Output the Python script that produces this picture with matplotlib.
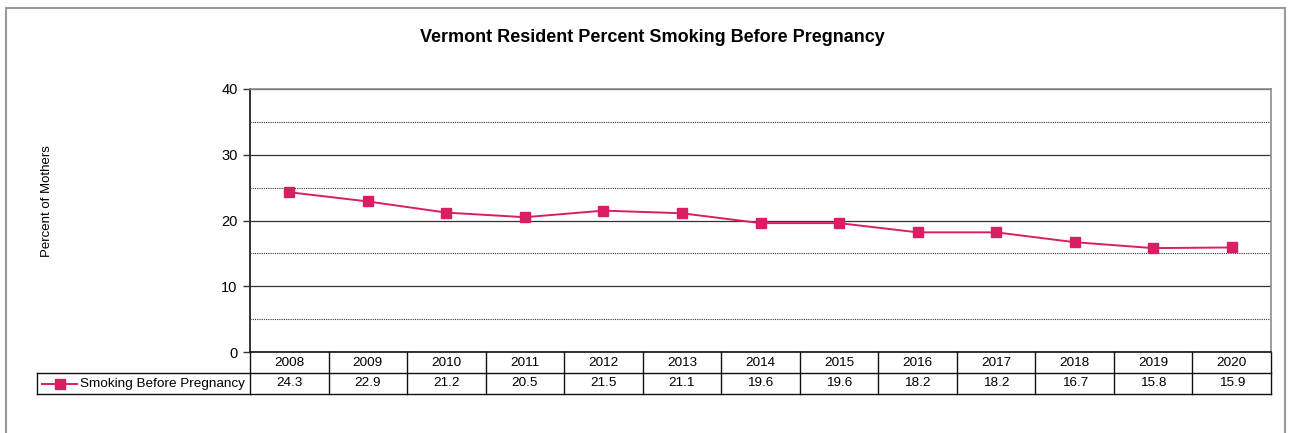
import matplotlib.pyplot as plt
from matplotlib.patches import Rectangle
from matplotlib.transforms import blended_transform_factory
from matplotlib.lines import Line2D

plt.rcParams["font.family"] = ["Liberation Sans", "DejaVu Sans"]

years = ["2008", "2009", "2010", "2011", "2012", "2013", "2014",
         "2015", "2016", "2017", "2018", "2019", "2020"]
smoking = [24.3, 22.9, 21.2, 20.5, 21.5, 21.1, 19.6,
           19.6, 18.2, 18.2, 16.7, 15.8, 15.9]
series_name = "Smoking Before Pregnancy"
color = "#D91E63"

W, H = 1292, 433
fig = plt.figure(figsize=(W / 100, H / 100), dpi=100)

# outer chart frame
fig.patches.append(Rectangle((6 / W, -0.1), (1285 - 6) / W, 1.1 - 8 / H,
                             transform=fig.transFigure, fill=False,
                             edgecolor="#9a9a9a", linewidth=1.5))

left, right, top, bottom = 250, 1271, 89, 352
ax = fig.add_axes([left / W, 1 - bottom / H, (right - left) / W, (bottom - top) / H])

x = list(range(len(years)))
ax.plot(x, smoking, color=color, linewidth=1.4, marker="s", markersize=7.5,
        zorder=3)

ax.set_xlim(-0.5, len(years) - 0.5)
ax.set_ylim(0, 40)
ax.set_yticks([0, 10, 20, 30, 40])
ax.set_yticks([5, 15, 25, 35], minor=True)
ax.tick_params(axis="y", which="major", direction="out", length=5, width=1,
               labelsize=10.5, pad=4, color="#333333")
ax.tick_params(axis="y", which="minor", length=0)
ax.set_xticks([])
ax.yaxis.grid(True, which="major", color="#333333", linewidth=0.9, linestyle="-")
ax.yaxis.grid(True, which="minor", color="#333333", linewidth=0.8,
              linestyle=(0, (1, 1)))
ax.set_axisbelow(True)
for side in ["top", "right"]:
    ax.spines[side].set_color("#8c8c8c")
    ax.spines[side].set_linewidth(1.2)
ax.spines["left"].set_color("#333333")
ax.spines["left"].set_linewidth(1.4)
ax.spines["bottom"].set_color("#111111")
ax.spines["bottom"].set_linewidth(1.2)

fig.text(47 / W, 1 - 201 / H, "Percent of Mothers", rotation=90,
         ha="center", va="center", fontsize=9.5)
fig.text(652 / W, 1 - 38 / H, "Vermont Resident Percent Smoking Before Pregnancy",
         ha="center", va="center", fontsize=13, fontweight="bold")

# data table under the axis
row_h = 21 / (bottom - top)
trans = blended_transform_factory(ax.transData, ax.transAxes)
lw = 1.0
fs = 9.7
n = len(years)
for i in range(n + 1):
    ax.add_line(Line2D([i - 0.5, i - 0.5], [0, -2 * row_h], transform=trans,
                       color="#111111", linewidth=lw, clip_on=False))
ax.add_line(Line2D([-0.5, n - 0.5], [-row_h, -row_h], transform=trans,
                   color="#111111", linewidth=lw, clip_on=False))
ax.add_line(Line2D([-0.5, n - 0.5], [-2 * row_h, -2 * row_h], transform=trans,
                   color="#111111", linewidth=lw, clip_on=False))
for i, (yr, v) in enumerate(zip(years, smoking)):
    ax.text(i, -0.5 * row_h, yr, transform=trans, ha="center", va="center",
            fontsize=fs)
    ax.text(i, -1.5 * row_h, f"{v:.1f}", transform=trans, ha="center",
            va="center", fontsize=fs)

# legend cell
leg_left = (37 - left) / (right - left)
for xx, yy in [([leg_left, 0], [-row_h, -row_h]),
               ([leg_left, 0], [-2 * row_h, -2 * row_h]),
               ([leg_left, leg_left], [-row_h, -2 * row_h])]:
    ax.add_line(Line2D(xx, yy, transform=ax.transAxes, color="#111111",
                       linewidth=lw, clip_on=False))
lx0 = (42 - left) / (right - left)
lx1 = (77 - left) / (right - left)
ax.add_line(Line2D([lx0, lx1], [-1.5 * row_h] * 2, transform=ax.transAxes,
                   color=color, linewidth=1.4, clip_on=False))
ax.add_line(Line2D([(lx0 + lx1) / 2], [-1.5 * row_h], transform=ax.transAxes,
                   color=color, marker="s", markersize=7, clip_on=False))
ax.text((80 - left) / (right - left), -1.5 * row_h, series_name,
        transform=ax.transAxes, ha="left", va="center", fontsize=fs)

fig.savefig("out.png", dpi=100)
